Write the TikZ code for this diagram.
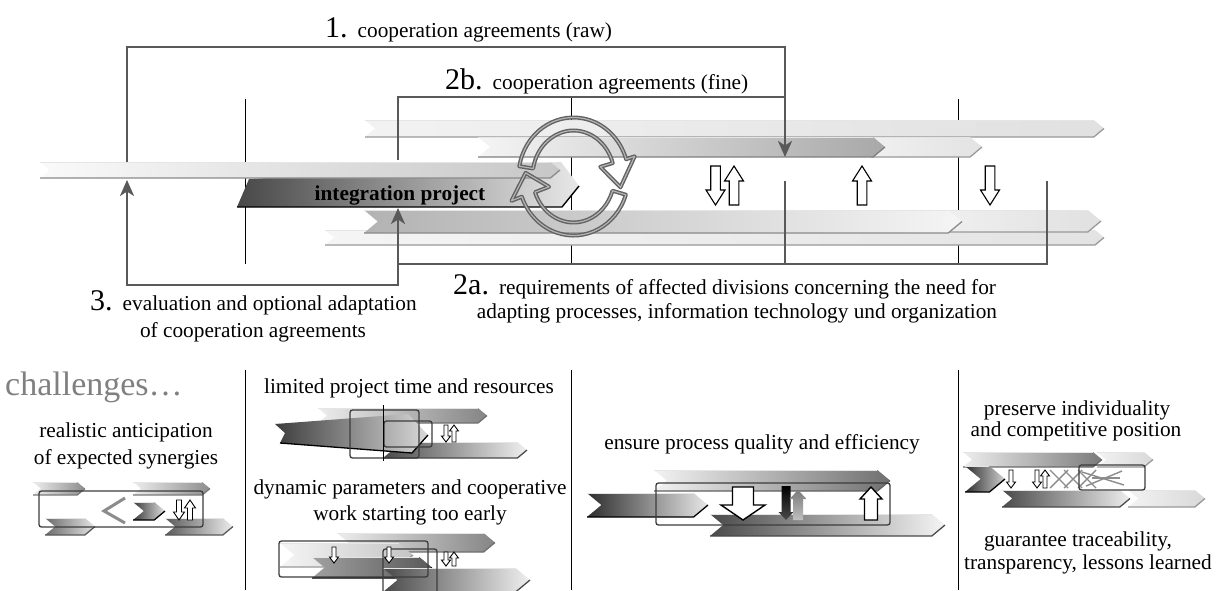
\documentclass[tikz,border=0pt]{standalone}
\usepackage{fontspec}
\setmainfont{Liberation Serif}
\usetikzlibrary{arrows.meta,calc}

\definecolor{connc}{HTML}{595959}
\definecolor{ringc}{HTML}{626262}
\definecolor{ringhi}{HTML}{B4B4B4}
\definecolor{boxc}{HTML}{3C3C3C}
\definecolor{hatchc}{HTML}{8C8C8C}
\definecolor{titlec}{HTML}{808080}

% chevron-shaped process bar: x0, x1 (tip), ytop, ybot, left colour, right colour, edge colour
\newcommand\tagbar[7]{%
  \pgfmathsetmacro\chd{0.6*(#4-#3)}%
  \pgfmathsetmacro\chm{0.5*(#3+#4)}%
  \shade[left color=#5,right color=#6] (#1,#3) -- ({#2-\chd},#3) -- (#2,\chm) -- ({#2-\chd},#4) -- (#1,#4) -- ({#1+\chd},\chm) -- cycle;
  \draw[#7,line width=1.3pt,line join=round] (#1,#4) -- ({#2-\chd},#4) -- (#2,\chm);
  \draw[white!80!gray,line width=0.8pt] (#1,#3) -- ({#2-\chd},#3);
}
% block arrows: style, cx, ytop, ybot, shaft half width, head half width, head length
\newcommand\arrdown[7]{%
  \path[#1] ({#2-#5},#3) -- ({#2+#5},#3) -- ({#2+#5},{#4-#7}) -- ({#2+#6},{#4-#7}) -- (#2,#4) -- ({#2-#6},{#4-#7}) -- ({#2-#5},{#4-#7}) -- cycle;
}
\newcommand\arrup[7]{%
  \path[#1] ({#2-#5},#4) -- ({#2+#5},#4) -- ({#2+#5},{#3+#7}) -- ({#2+#6},{#3+#7}) -- (#2,#3) -- ({#2-#6},{#3+#7}) -- ({#2-#5},{#3+#7}) -- cycle;
}
\newcommand\labnum[1]{{\fontsize{30}{30}\selectfont #1}}

\begin{document}
\begin{tikzpicture}[x=1pt,y=-1pt,
  conn/.style={draw=connc,line width=2.5pt,line cap=rect},
  connarr/.style={conn,-{Stealth[length=16pt,width=14pt,inset=4.5pt]}},
  sep/.style={draw=black,line width=0.9pt},
  box/.style={draw=boxc,line width=1.3pt,rounded corners=2.5pt},
  hollow/.style={draw=black,fill=white,line width=1.1pt},
  lbl/.style={inner sep=0pt,font=\fontsize{21.3}{24}\selectfont},
  ring/.style={draw=ringc,line width=4pt,line join=round,postaction={draw=ringhi,line width=1.2pt}},
  hatch/.style={draw=hatchc,line width=1.4pt}]

\fill[white] (0,0) rectangle (1222,590);
\useasboundingbox (0,0) rectangle (1222,590);

% ---------- phase separators ----------
\draw[sep] (245,99) -- (245,264);
\draw[sep] (571,97) -- (571,264);
\draw[sep] (958,99) -- (958,264);
\draw[sep] (245,370) -- (245,590);
\draw[sep] (571,370) -- (571,590);
\draw[sep] (958,370) -- (958,590);

% ---------- process bars ----------
\tagbar{365}{1104}{120}{137}{black!5}{black!12}{black!40}
\tagbar{325}{1104}{230}{245}{black!4}{black!11}{black!40}
\tagbar{937}{1101}{210}{232}{black!6}{black!12}{black!40}
\tagbar{364}{962}{210}{233}{black!30}{black!4}{black!46}
\tagbar{871}{982}{137}{157}{black!6}{black!11}{black!40}
\tagbar{478}{885}{137}{157}{black!4}{black!34}{black!50}

% integration project
\shade[left color=black!72,right color=black!9] (249,179) -- (561,162) -- (579,186) -- (562,207) -- (237,207) -- cycle;
\draw[black,line width=1.4pt,line join=round] (237,207) -- (562,207) -- (579,186);
% current state
\tagbar{40}{560}{162}{178}{black!2}{black!22}{black!46}
\node[lbl,font=\fontsize{21.3}{24}\selectfont\bfseries,anchor=base] (ip) at (400,200) {integration project};

% ---------- cycle arrows ----------
\coordinate (rc) at (573.5,176.5);
\draw[ring] ($(rc)+(190:55 and 59)$) arc[start angle=190,end angle=343,x radius=55,y radius=59]
  -- ($(rc)+(343:64 and 69)$) -- ($(rc)+(12:48 and 52)$) -- ($(rc)+(343:28 and 33)$)
  -- ($(rc)+(343:41 and 46)$) arc[start angle=343,end angle=190,x radius=41,y radius=46] -- cycle;
\draw[ring] ($(rc)+(18:55 and 59)$) arc[start angle=18,end angle=160,x radius=55,y radius=59]
  -- ($(rc)+(160:66 and 71)$) -- ($(rc)+(184:48 and 52)$) -- ($(rc)+(160:26 and 30)$)
  -- ($(rc)+(160:41 and 46)$) arc[start angle=160,end angle=18,x radius=41,y radius=46] -- cycle;

% ---------- feedback connectors ----------
\coordinate (cur1) at (127,161);
\coordinate (top1) at (785,47);
\coordinate (tgt1) at (785,157);
\coordinate (cur2b) at (398,159);
\coordinate (top2b) at (785,97);
\coordinate (req1) at (785,182);
\coordinate (req2) at (1047,182);
\coordinate (join2a) at (398,264);
\coordinate (tgt2a) at (398,208);
\coordinate (cur3) at (127,180);

\draw[connarr] (cur1) |- (top1) -- (tgt1);
\draw[conn] (cur2b) |- (top2b);
\draw[conn] (req2) |- (join2a);
\draw[conn] (req1) -- (req1 |- join2a);
\draw[connarr] (join2a) -- (tgt2a);
\draw[connarr] (join2a) -- ++(0,21) -| (cur3);

% information exchange
\arrdown{hollow}{715.5}{166}{205}{4.8}{9.5}{15}
\arrup{hollow}{734}{166}{205}{4.8}{9.5}{15}
\arrup{hollow}{862}{166}{205}{4.8}{9.5}{15}
\arrdown{hollow}{990}{166}{205}{4.8}{9.5}{15}

% ---------- labels ----------
\node[lbl,anchor=base west] (lab1) at (325,37) {\labnum{1. }cooperation agreements (raw)};
\node[lbl,anchor=base west] (lab2b) at (445,89) {\labnum{2b. }cooperation agreements (fine)};
\node[lbl,anchor=base west] (lab2a) at (453,294) {\labnum{2a. }requirements of affected divisions concerning the need for};
\node[lbl,anchor=base] (lab2a2) at (737,318) {adapting processes, information technology und organization};
\node[lbl,anchor=base west] (lab3) at (90,310) {\labnum{3. }evaluation and optional adaptation};
\node[lbl,anchor=base] (lab3b) at (253,337) {of cooperation agreements};

% ---------- challenges ----------
\node[lbl,anchor=base west,text=titlec,font=\fontsize{34}{34}\selectfont] (chal) at (5,395) {challenges…};
\node[lbl,anchor=base] (c1a) at (126,437) {realistic anticipation};
\node[lbl,anchor=base] (c1b) at (126,464) {of expected synergies};
\node[lbl,anchor=base] (c2a) at (409,393) {limited project time and resources};
\node[lbl,anchor=base] (c2b) at (410,494) {dynamic parameters and cooperative};
\node[lbl,anchor=base] (c2c) at (410,520) {work starting too early};
\node[lbl,anchor=base] (c3) at (762,449) {ensure process quality and efficiency};
\node[lbl,anchor=base] (c4a) at (1077,415) {preserve individuality};
\node[lbl,anchor=base] (c4b) at (1076,436) {and competitive position};
\node[lbl,anchor=base] (c4c) at (1078,546) {guarantee traceability,};
\node[lbl,anchor=base] (c4d) at (1088,569) {transparency, lessons learned};

% panel 1: synergies
\tagbar{33}{85}{482}{495}{black!7}{black!45}{black!52}
\tagbar{133}{210}{482}{495}{black!7}{black!45}{black!52}
\tagbar{45}{95}{518}{535}{black!58}{black!10}{black!65}
\tagbar{165}{233}{518}{535}{black!65}{black!7}{black!65}
\draw[box] (39,491) rectangle (203,527);
\draw[hatchc,line width=3pt] (125,498) -- (104,511) -- (125,523);
\tagbar{133}{165}{502}{520}{black!77}{black!12}{black}
\arrdown{hollow,line width=0.9pt}{179}{500}{520}{2.5}{5.5}{8}
\arrup{hollow,line width=0.9pt}{190}{500}{520}{2.5}{5.5}{8}

% panel 2: limited time
\tagbar{318}{487}{408}{423}{black!7}{black!48}{black!56}
\tagbar{383}{527}{442}{458}{black!71}{black!6}{black!71}
\shade[left color=black!76,right color=black!15] (275,424) -- (408,414) -- (428,435) -- (412,453) -- (280,443) -- (285,433) -- cycle;
\draw[black,line width=1.3pt] (280,443) -- (412,453) -- (428,435);
\draw[box] (350,410) rectangle (419,458);
\draw[box] (384,421) rectangle (432,447);
\draw[sep] (383,405) -- (383,461);
\arrdown{hollow,line width=0.9pt}{446}{425}{442}{2}{4.5}{6}
\arrup{hollow,line width=0.9pt}{454}{425}{442}{2}{4.5}{6}

% panel 2: early start
\tagbar{337}{495}{533}{552}{black!7}{black!48}{black!56}
\tagbar{280}{413}{543}{567}{black!4}{black!23}{black!40}
\tagbar{312}{432}{557}{578}{black!37}{black!65}{black}
\tagbar{383}{530}{568}{592}{black!71}{black!6}{black!71}
\draw[box] (279,541) rectangle (428,577);
\draw[box] (383,549) rectangle (437,596);
\arrdown{hollow,line width=0.9pt}{334}{547}{563}{2}{4.5}{6}
\arrdown{hollow,line width=0.9pt}{389}{547}{563}{2}{4.5}{6}
\arrdown{hollow,line width=0.9pt}{446}{552}{566}{2}{4.5}{6}
\arrup{hollow,line width=0.9pt}{454}{552}{566}{2}{4.5}{6}

% panel 3: quality
\tagbar{654}{890}{470}{491}{black!5}{black!56}{black!62}
\tagbar{587}{708}{493}{517}{black!82}{black!9}{black}
\tagbar{710}{945}{514}{536}{black!71}{black!4}{black!71}
\draw[box] (656,483) rectangle (890,525);
\arrdown{hollow,line width=1.4pt}{743}{487}{520}{10.5}{22}{15}
\arrdown{top color=black,bottom color=black!71}{786}{486}{520}{4.5}{7.5}{8}
\arrup{top color=black!52,bottom color=black!25}{798}{490}{520}{5}{8.5}{9}
\arrup{hollow,line width=1.4pt}{871}{487}{520}{6.5}{11}{12}

% panel 4: individuality
\tagbar{963}{1102}{452}{467}{black!7}{black!52}{black!58}
\tagbar{1097}{1153}{452}{467}{black!5}{black!15}{black!40}
\tagbar{1128}{1205}{490}{507}{black!5}{black!15}{black!40}
\tagbar{1002}{1130}{490}{507}{black!71}{black!7}{black!71}
\tagbar{965}{1005}{466}{492}{black!82}{black!18}{black}
\foreach \hx in {1050,1064,1078}{
  \draw[hatch] (\hx,470) -- ({\hx+18},488);
  \draw[hatch] (\hx,488) -- ({\hx+18},470);
}
\draw[hatch] (1082,472) -- (1124,485);
\draw[hatch] (1086,486) -- (1122,471);
\draw[hatch] (1092,478) -- (1120,478);
\draw[box] (1079,465) rectangle (1145,490);
\arrdown{hollow,line width=0.9pt}{1011}{470}{488}{2}{4.5}{6}
\arrdown{hollow,line width=0.9pt}{1037}{470}{488}{2}{4.5}{6}
\arrup{hollow,line width=0.9pt}{1045}{470}{488}{2}{4.5}{6}
\end{tikzpicture}
\end{document}
